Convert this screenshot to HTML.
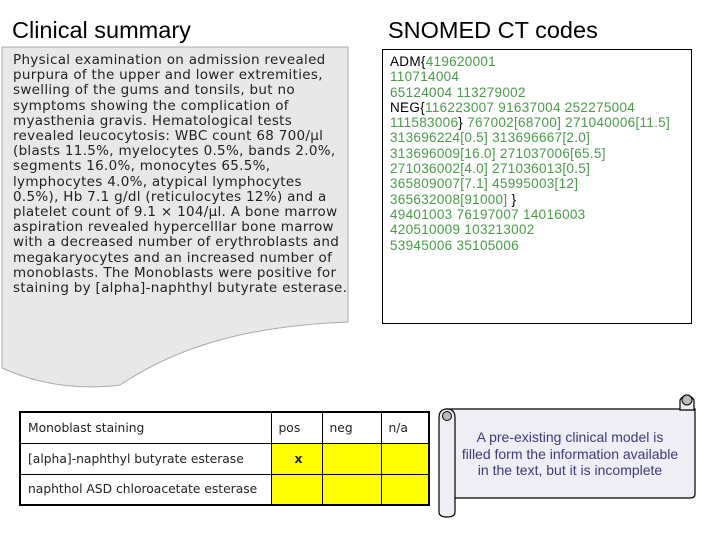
<!DOCTYPE html>
<html><head><meta charset="utf-8">
<style>
body{margin:0;width:720px;height:540px;background:#fff;position:relative;overflow:hidden;font-family:"Liberation Sans",sans-serif}
.t{position:absolute;font-size:23.5px;color:#000;top:17px}
#left-text{position:absolute;left:13px;top:53px;font-family:"DejaVu Sans",sans-serif;font-size:13.5px;line-height:15.2px;color:#222;white-space:pre;letter-spacing:0.3px}
#codes{position:absolute;left:382px;top:49px;width:310px;height:275px;border:1px solid #000;box-sizing:border-box}
#codes-text{position:absolute;left:390px;top:54px;font-size:13.5px;line-height:15.3px;color:#4a9a4a;white-space:pre;letter-spacing:0.3px}
.k{color:#000}
table{position:absolute;left:19px;top:411px;border-collapse:collapse;border:2px solid #000;font-family:"DejaVu Sans",sans-serif;font-size:12.3px;color:#222}
td{border:1px solid #000;height:31px;padding:0 0 0 7px;box-sizing:border-box;white-space:nowrap}
.y{background:#ffff00}
#note{position:absolute;left:450px;top:429px;width:240px;text-align:center;font-size:14px;line-height:16.5px;color:#3b3b78}
</style></head><body>
<div class="t" style="left:12px">Clinical summary</div>
<div class="t" style="left:388px">SNOMED CT codes</div>
<svg width="720" height="540" style="position:absolute;left:0;top:0">
<path d="M2,47 H348 V322 C250,326 180,345 120,385 C80,390 40,385 2,368 Z" fill="#e8e8e8" stroke="#aaa" stroke-width="1"/>
<path d="M447,409 H695 V494 Q695,498 690,498 H455 Z" fill="#eeeef4" stroke="#000" stroke-width="1.2"/>
<path d="M680,410 V400 Q687,390 694,400 V410 Z" fill="#eeeef4" stroke="#000" stroke-width="1.2"/>
<circle cx="687" cy="400" r="5" fill="#bbb" stroke="#000"/>
<path d="M439,418 Q439,409 447,409 Q455,409 455,418 V512 Q455,517 447,517 Q439,517 439,512 Z" fill="#eeeef4" stroke="#000" stroke-width="1.2"/>
<circle cx="447" cy="416" r="4.5" fill="#bbb" stroke="#000"/>
</svg>
<div id="left-text">Physical examination on admission revealed
purpura of the upper and lower extremities,
swelling of the gums and tonsils, but no
symptoms showing the complication of
myasthenia gravis. Hematological tests
revealed leucocytosis: WBC count 68 700/μl
(blasts 11.5%, myelocytes 0.5%, bands 2.0%,
segments 16.0%, monocytes 65.5%,
lymphocytes 4.0%, atypical lymphocytes
0.5%), Hb 7.1 g/dl (reticulocytes 12%) and a
platelet count of 9.1 × 104/μl. A bone marrow
aspiration revealed hypercelllar bone marrow
with a decreased number of erythroblasts and
megakaryocytes and an increased number of
monoblasts. The Monoblasts were positive for
staining by [alpha]-naphthyl butyrate esterase.</div>
<div id="codes"></div>
<div id="codes-text"><span class="k">ADM{</span>419620001
110714004
65124004 113279002
<span class="k">NEG{</span>116223007 91637004 252275004
111583006<span class="k">}</span> 767002[68700] 271040006[11.5]
313696224[0.5] 313696667[2.0]
313696009[16.0] 271037006[65.5]
271036002[4.0] 271036013[0.5]
365809007[7.1] 45995003[12]
365632008[91000] <span class="k">}</span>
49401003 76197007 14016003
420510009 103213002
53945006 35105006</div>
<table>
<tr><td style="width:251px">Monoblast staining</td><td style="width:51px">pos</td><td style="width:59px">neg</td><td style="width:48px">n/a</td></tr>
<tr><td>[alpha]-naphthyl butyrate esterase</td><td class="y" style="padding-left:23px;font-weight:bold">x</td><td class="y"></td><td class="y"></td></tr>
<tr><td>naphthol ASD chloroacetate esterase</td><td class="y"></td><td class="y"></td><td class="y"></td></tr>
</table>
<div id="note">A pre-existing clinical model is<br>filled form the information available<br>in the text, but it is incomplete</div>
</body></html>
